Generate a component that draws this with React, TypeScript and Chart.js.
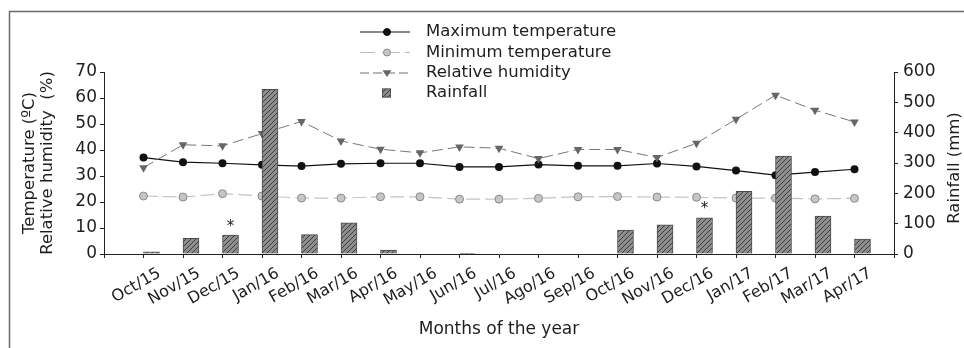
import React, { useEffect, useRef } from 'react';
import { Chart, registerables } from 'chart.js';

Chart.register(...registerables);

const months = ['Oct/15', 'Nov/15', 'Dec/15', 'Jan/16', 'Feb/16', 'Mar/16', 'Apr/16', 'May/16', 'Jun/16', 'Jul/16', 'Ago/16', 'Sep/16', 'Oct/16', 'Nov/16', 'Dec/16', 'Jan/17', 'Feb/17', 'Mar/17', 'Apr/17'];
const maxTemp = [37.1, 35.3, 34.9, 34.3, 33.8, 34.7, 34.9, 34.9, 33.5, 33.5, 34.4, 33.9, 33.9, 34.8, 33.7, 32.1, 30.3, 31.5, 32.6];
const minTemp = [22.3, 21.9, 23.2, 22.3, 21.5, 21.5, 22.0, 22.0, 21.1, 21.1, 21.4, 22.0, 22.1, 21.9, 21.8, 21.5, 21.5, 21.2, 21.4];
const humidity = [33.2, 42.0, 41.6, 46.3, 51.0, 43.5, 40.3, 38.9, 41.2, 40.7, 36.7, 40.2, 40.2, 37.1, 42.6, 51.8, 61.1, 55.3, 50.8];
const rainfall = [7, 52, 62, 543, 64, 103, 13, 0, 2, 0, 0, 0, 79, 96, 119, 207, 323, 125, 49];
const rainfallMarks = ['', '', '*', '', '', '', '', '', '', '', '', '', '', '', '*', '', '', '', ''];
const leftTicks = [0, 10, 20, 30, 40, 50, 60, 70];
const rightTicks = [0, 100, 200, 300, 400, 500, 600];

const legendLabels = ['Maximum temperature', 'Minimum temperature', 'Relative humidity', 'Rainfall'];
const leftTitle = ['Temperature (ºC)', 'Relative humidity  (%)'];
const rightTitle = 'Rainfall (mm)';
const xTitle = 'Months of the year';

const FONT = 'DejaVu Sans';
const TEXT = '#1e1e1e';

function makePattern(): CanvasPattern | string {
  const c = document.createElement('canvas');
  c.width = 5;
  c.height = 5;
  const g = c.getContext('2d');
  if (!g) return '#909090';
  g.fillStyle = '#8e8e8e';
  g.fillRect(0, 0, 5, 5);
  g.strokeStyle = '#333';
  g.lineWidth = 0.9;
  g.beginPath();
  g.moveTo(0, 5);
  g.lineTo(5, 0);
  g.moveTo(-1, 1);
  g.lineTo(1, -1);
  g.moveTo(4, 6);
  g.lineTo(6, 4);
  g.stroke();
  const p = g.createPattern(c, 'repeat');
  return p || '#909090';
}

function drawCircle(ctx: CanvasRenderingContext2D, x: number, y: number, r: number, fill: string, stroke: string) {
  ctx.beginPath();
  ctx.arc(x, y, r, 0, Math.PI * 2);
  ctx.fillStyle = fill;
  ctx.fill();
  ctx.strokeStyle = stroke;
  ctx.lineWidth = 1;
  ctx.stroke();
}

function drawTriangleDown(ctx: CanvasRenderingContext2D, x: number, y: number, r: number, fill: string) {
  ctx.beginPath();
  ctx.moveTo(x - r, y - r * 0.6);
  ctx.lineTo(x + r, y - r * 0.6);
  ctx.lineTo(x, y + r * 0.9);
  ctx.closePath();
  ctx.fillStyle = fill;
  ctx.fill();
}

export default function App() {
  const ref = useRef<HTMLCanvasElement>(null);

  useEffect(() => {
    if (!ref.current) return;
    const pattern = makePattern();
    const labels = ['', ...months, ''];
    const pad = (arr: number[]) => [null, ...arr, null];

    const decor = {
      id: 'decor',
      beforeDraw(chart: any) {
        const ctx = chart.ctx as CanvasRenderingContext2D;
        ctx.save();
        ctx.fillStyle = '#fff';
        ctx.fillRect(0, 0, chart.width, chart.height);
        ctx.strokeStyle = '#6a6a6a';
        ctx.lineWidth = 1.5;
        ctx.beginPath();
        ctx.moveTo(9.5, chart.height);
        ctx.lineTo(9.5, 11.5);
        ctx.lineTo(chart.width, 11.5);
        ctx.stroke();
        ctx.restore();
      },
      afterDraw(chart: any) {
        const ctx = chart.ctx as CanvasRenderingContext2D;
        const area = chart.chartArea;
        ctx.save();
        ctx.fillStyle = TEXT;
        const midY = (area.top + area.bottom) / 2;
        ctx.font = `16.5px "${FONT}"`;
        ctx.textAlign = 'center';
        ctx.textBaseline = 'middle';
        leftTitle.forEach((t, i) => {
          ctx.save();
          ctx.translate(30 + i * 18, midY);
          ctx.rotate(-Math.PI / 2);
          ctx.fillText(t, 0, 0);
          ctx.restore();
        });
        ctx.save();
        ctx.translate(955, midY + 5);
        ctx.rotate(-Math.PI / 2);
        ctx.fillText(rightTitle, 0, 0);
        ctx.restore();
        ctx.font = `17px "${FONT}"`;
        ctx.fillText(xTitle, (area.left + area.right) / 2, 330);

        const meta = chart.getDatasetMeta(4);
        ctx.font = `15px "${FONT}"`;
        ctx.textBaseline = 'bottom';
        rainfallMarks.forEach((m, i) => {
          if (!m) return;
          const el = meta.data[i + 1];
          if (!el) return;
          ctx.fillText(m, el.x, el.y - 1);
        });

        const rows = [32, 52.5, 73, 93];
        const x0 = 360, x1 = 410, mx = 387, tx = 426;
        ctx.font = `16.5px "${FONT}"`;
        ctx.textAlign = 'left';
        ctx.textBaseline = 'middle';
        legendLabels.forEach((t, i) => {
          const y = rows[i];
          ctx.fillStyle = TEXT;
          ctx.fillText(t, tx, y);
          ctx.save();
          if (i === 0) {
            ctx.strokeStyle = '#111';
            ctx.lineWidth = 1.2;
            ctx.beginPath();
            ctx.moveTo(x0, y);
            ctx.lineTo(x1, y);
            ctx.stroke();
            drawCircle(ctx, mx, y, 3.5, '#111', '#111');
          } else if (i === 1) {
            ctx.strokeStyle = '#bdbdbd';
            ctx.lineWidth = 1.2;
            ctx.beginPath();
            ctx.moveTo(x0, y);
            ctx.lineTo(x0 + 15, y);
            ctx.moveTo(x0 + 22, y);
            ctx.lineTo(x1 - 10, y);
            ctx.moveTo(x1 - 5, y);
            ctx.lineTo(x1, y);
            ctx.stroke();
            drawCircle(ctx, mx, y, 3.5, '#c4c4c4', '#8a8a8a');
          } else if (i === 2) {
            ctx.strokeStyle = '#6e6e6e';
            ctx.lineWidth = 1;
            ctx.setLineDash([9, 4]);
            ctx.beginPath();
            ctx.moveTo(x0, y);
            ctx.lineTo(x1, y);
            ctx.stroke();
            ctx.setLineDash([]);
            drawTriangleDown(ctx, mx, y, 4.5, '#666');
          } else {
            ctx.fillStyle = pattern as any;
            ctx.fillRect(mx - 5, y - 4.5, 9, 9);
            ctx.strokeStyle = '#555';
            ctx.lineWidth = 1;
            ctx.strokeRect(mx - 5 + 0.5, y - 4.5 + 0.5, 8, 8);
          }
          ctx.restore();
        });
        ctx.restore();
      },
    };

    const axisCommon = {
      grid: { display: true, offset: false, drawOnChartArea: false, drawTicks: true, tickLength: 4, color: '#222', lineWidth: 1 },
      border: { display: true, color: '#222', width: 1 },
    };

    const chart = new Chart(ref.current, {
      type: 'bar',
      data: {
        labels,
        datasets: [
          {
            type: 'line',
            label: legendLabels[0],
            data: pad(maxTemp),
            yAxisID: 'y',
            borderColor: '#111',
            borderWidth: 1.2,
            pointRadius: 4,
            pointBackgroundColor: '#111',
            pointBorderColor: '#111',
            pointBorderWidth: 0,
            order: 2,
          },
          {
            type: 'line',
            label: legendLabels[1],
            data: pad(minTemp),
            yAxisID: 'y',
            borderColor: '#c4c4c4',
            borderWidth: 1.2,
            borderDash: [14, 5],
            pointRadius: 4,
            pointBackgroundColor: '#c6c6c6',
            pointBorderColor: '#8a8a8a',
            pointBorderWidth: 1,
            order: 3,
          },
          {
            type: 'line',
            label: legendLabels[2],
            data: pad(humidity),
            yAxisID: 'y',
            borderColor: '#777',
            borderWidth: 1,
            borderDash: [11, 5],
            pointStyle: 'triangle',
            rotation: 180,
            pointRadius: 5,
            pointBackgroundColor: '#666',
            pointBorderColor: '#666',
            pointBorderWidth: 0,
            order: 1,
          },
          {
            type: 'bar',
            label: 'spacer',
            data: labels.map(() => null),
            yAxisID: 'y1',
            barThickness: 16,
            order: 0,
          },
          {
            type: 'bar',
            label: legendLabels[3],
            data: pad(rainfall),
            yAxisID: 'y1',
            backgroundColor: pattern as any,
            borderColor: '#4a4a4a',
            borderWidth: 1,
            barThickness: 16,
            order: 0,
          },
        ],
      } as any,
      options: {
        animation: false,
        responsive: false,
        devicePixelRatio: 1,
        layout: { padding: { top: 72, left: 0, right: 0, bottom: 0 } },
        plugins: { legend: { display: false }, tooltip: { enabled: false } },
        scales: {
          x: {
            type: 'category',
            offset: false,
            ...axisCommon,
            ticks: {
              autoSkip: false,
              maxRotation: 30,
              minRotation: 30,
              labelOffset: 16,
              padding: 6,
              color: TEXT,
              font: { family: FONT, size: 16 },
            },
            afterFit(s: any) { s.height = 94; },
          },
          y: {
            position: 'left',
            min: leftTicks[0],
            max: leftTicks[leftTicks.length - 1],
            ...axisCommon,
            ticks: { stepSize: leftTicks[1] - leftTicks[0], padding: 3, color: TEXT, font: { family: FONT, size: 17 } },
            afterFit(s: any) { s.width = 104; },
          },
          y1: {
            position: 'right',
            min: rightTicks[0],
            max: rightTicks[rightTicks.length - 1],
            ...axisCommon,
            ticks: { stepSize: rightTicks[1] - rightTicks[0], padding: 5, color: TEXT, font: { family: FONT, size: 17 } },
            afterFit(s: any) { s.width = 70; },
          },
        },
      } as any,
      plugins: [decor],
    });
    return () => chart.destroy();
  }, []);

  return (
    <div style={{ position: 'absolute', left: 0, top: 0, width: 964, height: 348 }}>
      <canvas ref={ref} width={964} height={348} style={{ display: 'block', width: 964, height: 348 }} />
    </div>
  );
}
